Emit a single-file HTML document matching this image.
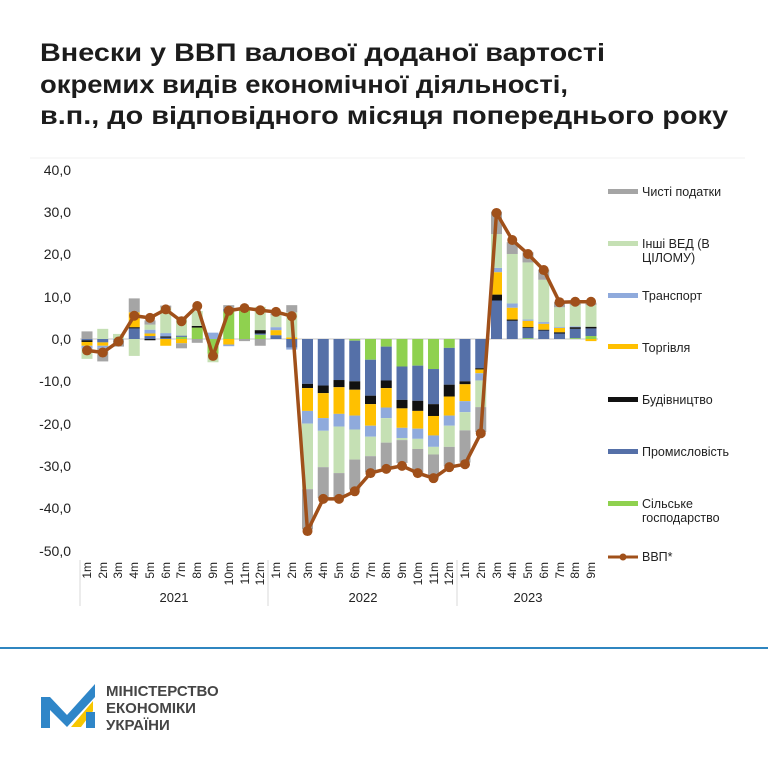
<!DOCTYPE html>
<html><head><meta charset="utf-8"><style>
html,body{margin:0;padding:0;background:#fff}
svg{display:block}
text{font-family:"Liberation Sans",sans-serif}
</style></head><body>
<svg id="s" width="768" height="768" viewBox="0 0 768 768" xmlns="http://www.w3.org/2000/svg">
<rect width="768" height="768" fill="#fff"/>
<g font-weight="bold" font-size="25" fill="#1c1c1c">
<text x="40" y="61" textLength="565" lengthAdjust="spacingAndGlyphs">Внески у ВВП валової доданої вартості</text>
<text x="40" y="93" textLength="528" lengthAdjust="spacingAndGlyphs">окремих видів економічної діяльності,</text>
<text x="40" y="124" textLength="688" lengthAdjust="spacingAndGlyphs">в.п., до відповідного місяця попереднього року</text>
</g>
<line x1="30" y1="158" x2="745" y2="158" stroke="#f0f0f0" stroke-width="1"/>
<g font-size="14" fill="#222" text-anchor="end">
<text x="71" y="175">40,0</text>
<text x="71" y="217">30,0</text>
<text x="71" y="259">20,0</text>
<text x="71" y="302">10,0</text>
<text x="71" y="344">0,0</text>
<text x="71" y="386">-10,0</text>
<text x="71" y="429">-20,0</text>
<text x="71" y="471">-30,0</text>
<text x="71" y="513">-40,0</text>
<text x="71" y="556">-50,0</text>
</g>
<line x1="80" y1="339" x2="598" y2="339" stroke="#d9d9d9" stroke-width="1.5"/>
<g id="bars"></g>
<g id="line"></g>
<g stroke="#d9d9d9" stroke-width="1">
<line x1="80" y1="560" x2="80" y2="606"/>
<line x1="268" y1="560" x2="268" y2="606"/>
<line x1="457" y1="560" x2="457" y2="606"/>
</g>
<g font-size="12" fill="#222">
<text transform="translate(91,562) rotate(-90)" text-anchor="end">1m</text>
<text transform="translate(107,562) rotate(-90)" text-anchor="end">2m</text>
<text transform="translate(122,562) rotate(-90)" text-anchor="end">3m</text>
<text transform="translate(138,562) rotate(-90)" text-anchor="end">4m</text>
<text transform="translate(154,562) rotate(-90)" text-anchor="end">5m</text>
<text transform="translate(170,562) rotate(-90)" text-anchor="end">6m</text>
<text transform="translate(185,562) rotate(-90)" text-anchor="end">7m</text>
<text transform="translate(201,562) rotate(-90)" text-anchor="end">8m</text>
<text transform="translate(217,562) rotate(-90)" text-anchor="end">9m</text>
<text transform="translate(233,562) rotate(-90)" text-anchor="end">10m</text>
<text transform="translate(249,562) rotate(-90)" text-anchor="end">11m</text>
<text transform="translate(264,562) rotate(-90)" text-anchor="end">12m</text>
<text transform="translate(280,562) rotate(-90)" text-anchor="end">1m</text>
<text transform="translate(296,562) rotate(-90)" text-anchor="end">2m</text>
<text transform="translate(312,562) rotate(-90)" text-anchor="end">3m</text>
<text transform="translate(327,562) rotate(-90)" text-anchor="end">4m</text>
<text transform="translate(343,562) rotate(-90)" text-anchor="end">5m</text>
<text transform="translate(359,562) rotate(-90)" text-anchor="end">6m</text>
<text transform="translate(375,562) rotate(-90)" text-anchor="end">7m</text>
<text transform="translate(390,562) rotate(-90)" text-anchor="end">8m</text>
<text transform="translate(406,562) rotate(-90)" text-anchor="end">9m</text>
<text transform="translate(422,562) rotate(-90)" text-anchor="end">10m</text>
<text transform="translate(438,562) rotate(-90)" text-anchor="end">11m</text>
<text transform="translate(453,562) rotate(-90)" text-anchor="end">12m</text>
<text transform="translate(469,562) rotate(-90)" text-anchor="end">1m</text>
<text transform="translate(485,562) rotate(-90)" text-anchor="end">2m</text>
<text transform="translate(501,562) rotate(-90)" text-anchor="end">3m</text>
<text transform="translate(516,562) rotate(-90)" text-anchor="end">4m</text>
<text transform="translate(532,562) rotate(-90)" text-anchor="end">5m</text>
<text transform="translate(548,562) rotate(-90)" text-anchor="end">6m</text>
<text transform="translate(564,562) rotate(-90)" text-anchor="end">7m</text>
<text transform="translate(579,562) rotate(-90)" text-anchor="end">8m</text>
<text transform="translate(595,562) rotate(-90)" text-anchor="end">9m</text>
</g>
<g font-size="13" fill="#222" text-anchor="middle">
<text x="174" y="602">2021</text>
<text x="363" y="602">2022</text>
<text x="528" y="602">2023</text>
</g>
<g font-size="12.5" fill="#222">
<rect x="608" y="189" width="30" height="5" fill="#a5a5a5"/><text x="642" y="196">Чисті податки</text>
<rect x="608" y="241" width="30" height="5" fill="#c5e0b4"/><text x="642" y="248">Інші ВЕД (В</text><text x="642" y="262">ЦІЛОМУ)</text>
<rect x="608" y="293" width="30" height="5" fill="#8faadc"/><text x="642" y="300">Транспорт</text>
<rect x="608" y="344" width="30" height="5" fill="#ffc000"/><text x="642" y="352">Торгівля</text>
<rect x="608" y="397" width="30" height="5" fill="#111"/><text x="642" y="404">Будівництво</text>
<rect x="608" y="449" width="30" height="5" fill="#5570a8"/><text x="642" y="456">Промисловість</text>
<rect x="608" y="501" width="30" height="5" fill="#8fd14f"/><text x="642" y="508">Сільське</text><text x="642" y="522">господарство</text>
<line x1="608" y1="557" x2="638" y2="557" stroke="#a0501a" stroke-width="3"/><circle cx="623" cy="557" r="3.5" fill="#a0501a"/><text x="642" y="561">ВВП*</text>
</g>
<line x1="0" y1="648" x2="768" y2="648" stroke="#2f86c0" stroke-width="2"/>
<g>
<polygon points="41,697 50,697 67,715 95,684 95,697 67,727 50,710 50,728 41,728" fill="#2f86c8"/>
<polygon points="71,727 93,701 93,711 81,727" fill="#f7c600"/>
<rect x="86" y="712" width="9" height="16" fill="#2f86c8"/>
</g>
<g font-size="15" font-weight="bold" fill="#454545">
<text x="106" y="696">МІНІСТЕРСТВО</text>
<text x="106" y="713">ЕКОНОМІКИ</text>
<text x="106" y="730">УКРАЇНИ</text>
</g>
</svg>
<script>
var cols=["#8fd14f","#5570a8","#111111","#ffc000","#8faadc","#c5e0b4","#a5a5a5"];
// agri, ind, constr, trade, transp, other, tax
var D=[
[0,-0.3,-0.4,-0.9,-0.7,-2.4,1.8],
[0,-0.8,0,-0.8,-0.5,2.4,-3.2],
[0,0,0,0,-0.3,1.2,-1.5],
[0,2.5,0.3,3.5,0,-4,3.3],
[0,0.7,-0.3,0.6,0.9,1.2,1.0],
[0,0.3,0.3,-1.6,0.8,6,0.5],
[0.5,0.3,0,-1,0,4.5,-1.2],
[2.7,0,0.4,0,0,3.5,-0.9],
[-3.5,0,0,0,1.5,-2.0,0],
[6.5,0.6,0,-1.3,-0.4,0,0.9],
[7.0,0,0,0,0,0,-0.5],
[1,0.3,0.8,0,0,5.5,-1.6],
[0,0.9,0,1.2,0.7,2.8,0.5],
[0,-2,0,0.4,-0.5,5.9,1.7],
[0,-10.6,-1,-5.4,-3,-15.5,-9.5],
[0,-11,-1.8,-5.9,-3,-8.6,-7.3],
[0,-9.7,-1.7,-6.3,-3,-11,-6],
[-0.4,-9.6,-2,-6.1,-3.3,-7.1,-7.1],
[-4.9,-8.5,-2,-5.1,-2.6,-4.6,-3.8],
[-1.8,-8,-1.8,-4.6,-2.5,-5.8,-5.9],
[-6.5,-7.9,-2,-4.6,-2.4,-0.5,-5.4],
[-6.3,-8.3,-2.4,-4.2,-2.4,-2.4,-5.7],
[-7.1,-8.3,-2.8,-4.6,-2.7,-1.8,-5.5],
[-2.1,-8.7,-2.8,-4.5,-2.4,-5,-4.6],
[0,-10,-0.7,-4,-2.6,-4.3,-7.6],
[0,-6.9,-0.3,-0.9,-1.7,-6.3,-5.9],
[0,9.1,1.4,5.3,1,8,5.3],
[0,4.3,0.3,2.8,1,11.7,2.8],
[0.2,2.4,0.2,1.5,0.3,13.5,2.4],
[0,2,0.2,1.4,0.4,10,2.4],
[0,1.3,0.3,1,0.2,4.7,1.2],
[0.2,2.2,0.4,0,0.2,5,0.8],
[0.7,1.8,0.4,-0.5,0,5.1,0.6]];
var L=[-2.7,-3.2,-0.6,5.5,5.0,7.0,4.2,7.8,-4.0,6.7,7.3,6.8,6.4,5.4,-45.4,-37.8,-37.8,-36,-31.7,-30.7,-30.0,-31.7,-32.9,-30.3,-29.6,-22.3,29.8,23.4,20.1,16.3,8.7,8.8,8.8];
function Y(v){return 339-v*4.23}
function X(i){return 87+i*15.75}
var ns="http://www.w3.org/2000/svg",b=document.getElementById("bars"),h="";
D.forEach(function(r,i){var p=0,n=0;r.forEach(function(v,k){if(!v)return;var y1,y2;if(v>0){y1=Y(p+v);y2=Y(p);p+=v}else{y1=Y(n);y2=Y(n+v);n+=v}
h+='<rect x="'+(X(i)-5.5)+'" y="'+y1+'" width="11" height="'+(y2-y1)+'" fill="'+cols[k]+'"/>'})});
b.innerHTML=h;
var pts=L.map(function(v,i){return X(i)+","+Y(v)}).join(" "),g='<polyline points="'+pts+'" fill="none" stroke="#a0501a" stroke-width="3.5" stroke-linejoin="round"/>';
L.forEach(function(v,i){g+='<circle cx="'+X(i)+'" cy="'+Y(v)+'" r="5" fill="#a0501a"/>'});
document.getElementById("line").innerHTML=g;
</script>
</body></html>
